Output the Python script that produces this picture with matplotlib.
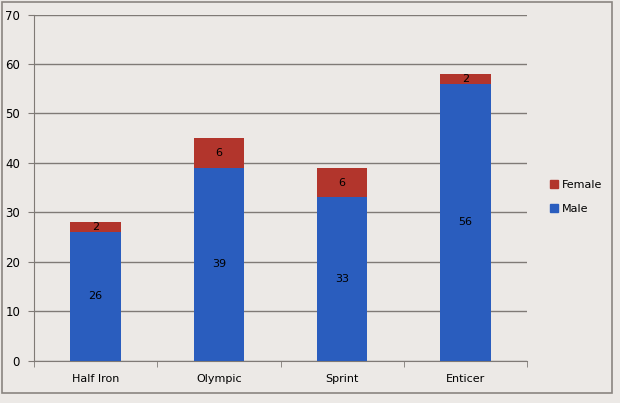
import matplotlib
matplotlib.use("Agg")
import matplotlib.pyplot as plt
from matplotlib.patches import Rectangle, Patch
import numpy as np

categories = ["Half Iron", "Olympic", "Sprint", "Enticer"]
male = [26, 39, 33, 56]
female = [2, 6, 6, 2]
yticks = [0, 10, 20, 30, 40, 50, 60, 70]

bg = "#ECE9E6"
blue = "#2A5DBE"
red = "#B2352C"
gridc = "#7F7A76"

fig = plt.figure(figsize=(6.2, 4.03), dpi=100, facecolor=bg)
fig.patches.append(Rectangle((2/620, 1 - 393/403), 610/620, 391/403, transform=fig.transFigure,
                             fill=False, edgecolor="#8A8580", linewidth=1.2))
ax = fig.add_axes([34/620, 1 - 360.5/403, (527 - 34)/620, (360.5 - 14.5)/403])
ax.set_facecolor(bg)

x = np.arange(len(categories))
w = 0.41
ax.bar(x, male, w, color=blue, zorder=3)
ax.bar(x, female, w, bottom=male, color=red, zorder=3)
for i in range(len(categories)):
    ax.text(x[i], male[i] / 2, str(male[i]), ha="center", va="center", fontsize=8, zorder=4)
    ax.text(x[i], male[i] + female[i] / 2, str(female[i]), ha="center", va="center", fontsize=8, zorder=4)

ax.set_xlim(-0.5, len(categories) - 0.5)
ax.set_ylim(0, 70)
ax.set_yticks(yticks)
ax.yaxis.grid(True, color=gridc, linewidth=1, zorder=0)
ax.set_xticks(x)
ax.set_xticklabels(categories, fontsize=8)
ax.set_xticks(np.arange(len(categories) + 1) - 0.5, minor=True)
ax.tick_params(axis="x", which="major", length=0, pad=10)
ax.tick_params(axis="x", which="minor", length=4, color=gridc)
ax.tick_params(axis="y", length=4, color=gridc, labelsize=8.5, pad=6)
for s in ["top", "right"]:
    ax.spines[s].set_visible(False)
for s in ["left", "bottom"]:
    ax.spines[s].set_color(gridc)

handles = [Patch(color=red, label="Female"), Patch(color=blue, label="Male")]
fig.legend(handles=handles, loc="center left", bbox_to_anchor=(540/620, 1 - 197/403),
           frameon=False, fontsize=8, handlelength=0.7, handleheight=0.7,
           handletextpad=0.4, labelspacing=1.3)

fig.savefig("out.png", dpi=100, facecolor=bg)
